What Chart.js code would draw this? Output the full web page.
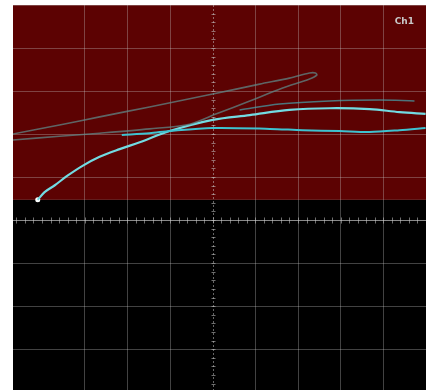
<!DOCTYPE html>
<html>
<head>
<meta charset="utf-8">
<script src="https://cdn.jsdelivr.net/npm/chart.js@4.4.1/dist/chart.umd.min.js"></script>
<style>
  html, body { margin: 0; padding: 0; background: #fff; overflow: hidden; }
  canvas { display: block; }
</style>
</head>
<body>
<canvas id="scope" width="426" height="390"></canvas>
<script>
// ── Data (screen divisions, centre = 0,0) ─────────────────
const mainX  = [-4.10, -3.94, -3.70, -3.42, -3.05, -2.65, -2.18, -1.71, -1.01, 0.00, 0.87, 1.80, 2.74, 3.68, 4.38, 4.99];
const mainY  = [ 0.47,  0.65,  0.81,  1.02,  1.26,  1.47,  1.65,  1.81,  2.07, 2.33, 2.44, 2.56, 2.60, 2.58, 2.51, 2.47];

const returnX = [0.63, 1.57, 2.74, 3.91, 4.73];
const returnY = [2.56, 2.70, 2.77, 2.79, 2.77];

const flatX  = [-2.13, -1.48, -1.01, 0.00, 1.34, 2.11, 2.98, 3.68, 4.38, 4.99];
const flatY  = [ 1.98,  2.02,  2.07, 2.14, 2.12, 2.09, 2.07, 2.05, 2.09, 2.14];

// faint hysteresis loop: upper edge left→right, then lower edge back
const loopX  = [-4.69, -3.59, -2.65, -1.48, 0.00, 1.10, 1.80, 2.27, 2.41, 2.44, 2.27, 1.64, 0.87, 0.09, -0.54, -1.48, -2.65, -3.59, -4.69];
const loopY  = [ 2.00,  2.21,  2.40,  2.63, 2.93, 3.16, 3.30, 3.42, 3.42, 3.37, 3.28, 3.07, 2.77, 2.47,  2.23,  2.12,  2.02,  1.95,  1.86];

const startX = [-4.10];
const startY = [0.47];

const xMin = -4.68, xMax = 5.0;
const yMin = -3.95, yMax = 5.0;
const redFloor = 0.47;        // lower edge of the red band
const channelLabel = 'Ch1';

const pts = (xs, ys) => xs.map((x, i) => ({ x, y: ys[i] }));

// ── Scope screen: background, centre axes, label ──────────
const scopePlugin = {
  id: 'scope',
  beforeDraw(chart) {
    const { ctx, chartArea: a, scales: { y } } = chart;
    const yr = y.getPixelForValue(redFloor);
    ctx.save();
    ctx.fillStyle = '#5c0202';
    ctx.fillRect(a.left, a.top, a.right - a.left, yr - a.top);
    ctx.fillStyle = '#000';
    ctx.fillRect(a.left, yr, a.right - a.left, a.bottom - yr);
    ctx.restore();
  },
  beforeDatasetsDraw(chart) {
    const { ctx, chartArea: a, scales: { x, y } } = chart;
    const cx = Math.round(x.getPixelForValue(0)) + 0.5;
    const cy = Math.round(y.getPixelForValue(0)) + 0.5;
    ctx.save();
    ctx.lineWidth = 1;
    // horizontal centre line
    ctx.strokeStyle = 'rgba(210,210,210,0.65)';
    ctx.beginPath();
    ctx.moveTo(a.left, cy); ctx.lineTo(a.right, cy);
    ctx.stroke();
    // vertical centre line, dotted
    ctx.strokeStyle = 'rgba(200,200,200,0.5)';
    ctx.setLineDash([2, 2]);
    ctx.beginPath();
    ctx.moveTo(cx, a.top); ctx.lineTo(cx, a.bottom);
    ctx.stroke();
    ctx.setLineDash([]);
    // minor ticks every 0.2 div
    ctx.strokeStyle = 'rgba(200,200,200,0.55)';
    ctx.beginPath();
    for (let v = Math.ceil(xMin * 5) / 5; v <= xMax; v += 0.2) {
      const px = Math.round(x.getPixelForValue(v)) + 0.5;
      ctx.moveTo(px, cy - 3); ctx.lineTo(px, cy + 3);
    }
    for (let v = Math.ceil(yMin * 5) / 5; v <= yMax; v += 0.2) {
      const py = Math.round(y.getPixelForValue(v)) + 0.5;
      ctx.moveTo(cx - 2, py); ctx.lineTo(cx + 2, py);
    }
    ctx.stroke();
    // channel label
    ctx.fillStyle = '#c8c8c8';
    ctx.font = 'bold 9px "DejaVu Sans", sans-serif';
    ctx.textAlign = 'right';
    ctx.textBaseline = 'middle';
    ctx.fillText(channelLabel, a.right - 12, a.top + 17);
    ctx.restore();
  }
};

const gridOpts = {
  color: ctx => (ctx.tick && ctx.tick.value === 0) ? 'rgba(0,0,0,0)' : 'rgba(200,200,200,0.33)',
  lineWidth: 1,
  drawTicks: false
};
const onlyWhole = axis => { axis.ticks = axis.ticks.filter(t => Number.isInteger(t.value)); };

new Chart(document.getElementById('scope'), {
  type: 'scatter',
  data: {
    datasets: [
      { data: pts(loopX, loopY),     showLine: true, borderColor: 'rgba(95,135,135,0.75)', borderWidth: 1.6, pointRadius: 0, tension: 0.3 },
      { data: pts(returnX, returnY), showLine: true, borderColor: 'rgba(70,165,175,0.7)',  borderWidth: 1.5, pointRadius: 0, tension: 0.35 },
      { data: pts(flatX, flatY),     showLine: true, borderColor: '#3fc2d0',              borderWidth: 2,   pointRadius: 0, tension: 0.3 },
      { data: pts(mainX, mainY),     showLine: true, borderColor: '#72dbe2',              borderWidth: 2.2, pointRadius: 0, tension: 0.35 },
      { data: pts(startX, startY),   showLine: false, pointRadius: 2.5, pointBackgroundColor: '#fff', pointBorderWidth: 0 }
    ]
  },
  options: {
    responsive: false,
    animation: false,
    layout: { autoPadding: false, padding: { left: 13, top: 5, right: 0, bottom: 0 } },
    plugins: { legend: { display: false }, tooltip: { enabled: false } },
    scales: {
      x: {
        type: 'linear', min: xMin, max: xMax,
        ticks: { display: false, stepSize: 1 },
        afterBuildTicks: onlyWhole,
        grid: gridOpts,
        border: { display: false }
      },
      y: {
        type: 'linear', min: yMin, max: yMax,
        ticks: { display: false, stepSize: 1 },
        afterBuildTicks: onlyWhole,
        grid: gridOpts,
        border: { display: false }
      }
    }
  },
  plugins: [scopePlugin]
});
</script>
</body>
</html>
